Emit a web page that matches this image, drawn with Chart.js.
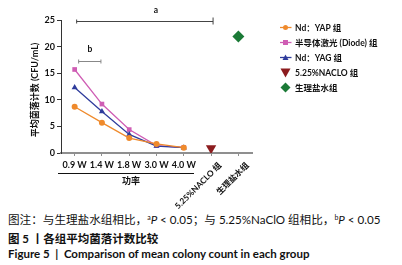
<!DOCTYPE html>
<html>
<head>
<meta charset="utf-8">
<script src="https://cdn.jsdelivr.net/npm/chart.js@4.4.1/dist/chart.umd.min.js"></script>
<style>
  html, body { margin: 0; padding: 0; background: #fff; }
  #wrap { position: relative; width: 402px; height: 265px; overflow: hidden; }
  #chart { position: absolute; left: 0; top: 0; }
  .cap { position: absolute; left: 8px; white-space: nowrap; color: #111; line-height: 1; font-family: Lato, "Noto Sans CJK SC", sans-serif; }
  #cap1 { top: 214px; font-size: 11.6px; }
  #cap2 { top: 233px; font-size: 11.5px; font-weight: bold; }
  #cap3 { top: 247.5px; font-size: 11.5px; font-weight: bold; }
  sup { font-size: 7px; vertical-align: 4px; }
</style>
</head>
<body>
<div id="wrap">
  <canvas id="chart" width="402" height="212"></canvas>
  <div class="cap" id="cap1">图注：与生理盐水组相比，<sup>a</sup><i>P</i> &lt; 0.05；与 5.25%NaClO 组相比，<sup>b</sup><i>P</i> &lt; 0.05</div>
  <div class="cap" id="cap2">图 5 丨各组平均菌落计数比较</div>
  <div class="cap" id="cap3">Figure 5 &nbsp;| &nbsp;Comparison of mean colony count in each group</div>
</div>
<script>
// categories & values
const CATEGORIES = ["0.9 W", "1.4 W", "1.8 W", "3.0 W", "4.0 W", "5.25%NACLO 组", "生理盐水组"];
const YAP_VALUES = [8.7, 5.7, 2.8, 1.7, 1.0, null, null];
const DIODE_VALUES = [15.7, 9.2, 4.4, 1.4, 1.05, null, null];
const YAG_VALUES = [12.3, 7.8, 3.5, 1.3, 1.0, null, null];
const NACLO_VALUES = [null, null, null, null, null, 0.9, null];
const SALINE_VALUES = [null, null, null, null, null, null, 21.9];
const Y_TICKS = [0, 5, 10, 15, 20, 25];

const FONT = 'Lato, "Noto Sans CJK SC", sans-serif';
const ORANGE = "#EF8A2C";
const PINK = "#CF5DB4";
const BLUE = "#2F3C9C";
const DARKRED = "#8C1C1E";
const GREEN = "#1B7A37";

const LEGEND = [
  { text: "Nd：YAP 组", color: ORANGE, style: "circle", r: 2.5, line: true },
  { text: "半导体激光 (Diode) 组", color: PINK, style: "rect", r: 2.5, line: true },
  { text: "Nd：YAG 组", color: BLUE, style: "triangle", r: 3, line: true },
  { text: "5.25%NACLO 组", color: DARKRED, style: "triDown", r: 5, line: false },
  { text: "生理盐水组", color: GREEN, style: "diamond", r: 5, line: false }
];

function marker(ctx, style, x, y, r, color) {
  ctx.save();
  ctx.fillStyle = color;
  ctx.beginPath();
  if (style === "circle") {
    ctx.arc(x, y, r, 0, Math.PI * 2);
  } else if (style === "rect") {
    ctx.rect(x - r, y - r, 2 * r, 2 * r);
  } else if (style === "triangle") {
    ctx.moveTo(x, y - r); ctx.lineTo(x + r, y + r * 0.8); ctx.lineTo(x - r, y + r * 0.8);
  } else if (style === "triDown") {
    ctx.moveTo(x - r, y - r * 0.8); ctx.lineTo(x + r, y - r * 0.8); ctx.lineTo(x, y + r);
  } else if (style === "diamond") {
    ctx.moveTo(x, y - r); ctx.lineTo(x + r, y); ctx.lineTo(x, y + r); ctx.lineTo(x - r, y);
  }
  ctx.closePath();
  ctx.fill();
  ctx.restore();
}

const extrasPlugin = {
  id: "extras",
  afterDraw(chart) {
    const ctx = chart.ctx;
    const xs = chart.scales.x;
    const ys = chart.scales.y;
    ctx.save();
    ctx.fillStyle = "#111";

    // x labels (last two rotated)
    ctx.textBaseline = "middle";
    CATEGORIES.forEach((c, i) => {
      const px = xs.getPixelForValue(i);
      if (i < 5) {
        ctx.font = "bold 9px " + FONT;
        ctx.textAlign = "center";
        ctx.fillText(c, px, 165);
      } else {
        ctx.save();
        ctx.font = "bold 8.3px " + FONT;
        ctx.translate(px + 9, 164);
        ctx.rotate(-Math.PI / 4);
        ctx.textAlign = "right";
        ctx.fillText(c, 0, 0);
        ctx.restore();
      }
    });

    // underline + 功率
    ctx.strokeStyle = "#111";
    ctx.lineWidth = 1;
    ctx.beginPath();
    ctx.moveTo(58, 173.5); ctx.lineTo(194, 173.5);
    ctx.stroke();
    ctx.font = "bold 9px " + FONT;
    ctx.textAlign = "center";
    ctx.fillText("功率", 131, 181);

    // y title
    ctx.save();
    ctx.translate(35, 90);
    ctx.rotate(-Math.PI / 2);
    ctx.font = "bold 9px " + FONT;
    ctx.fillText("平均菌落计数 (CFU/mL)", 0, 0);
    ctx.restore();

    // significance bracket a
    const ya = Math.round(ys.getPixelForValue(24.9)) + 0.5;
    const ax0 = xs.getPixelForValue(0) + 2;
    const ax1 = xs.getPixelForValue(5) + 2;
    ctx.strokeStyle = "#444";
    ctx.beginPath();
    ctx.moveTo(ax0, ya); ctx.lineTo(ax1, ya);
    ctx.moveTo(ax0, ya - 2); ctx.lineTo(ax0, ya + 2);
    ctx.moveTo(ax1, ya - 4); ctx.lineTo(ax1, ya + 3);
    ctx.stroke();
    ctx.font = "bold 8.5px " + FONT;
    ctx.fillText("a", 156, 10);

    // significance bracket b
    const yb = Math.round(ys.getPixelForValue(17.3)) + 0.5;
    const bx0 = xs.getPixelForValue(0) + 4;
    const bx1 = xs.getPixelForValue(1) - 1;
    ctx.strokeStyle = "#888";
    ctx.beginPath();
    ctx.moveTo(bx0, yb); ctx.lineTo(bx1, yb);
    ctx.moveTo(bx0, yb - 2); ctx.lineTo(bx0, yb + 2);
    ctx.moveTo(bx1, yb - 2); ctx.lineTo(bx1, yb + 2);
    ctx.stroke();
    ctx.fillText("b", 90, 49);

    // legend
    ctx.font = "bold 8.5px " + FONT;
    ctx.textAlign = "left";
    LEGEND.forEach((item, i) => {
      const ly = 27.5 + i * 15;
      if (item.line) {
        ctx.strokeStyle = item.color;
        ctx.lineWidth = 1.3;
        ctx.beginPath();
        ctx.moveTo(280, ly); ctx.lineTo(291.5, ly);
        ctx.stroke();
      }
      marker(ctx, item.style, 285.5, ly, item.r, item.color);
      ctx.fillStyle = "#111";
      ctx.fillText(item.text, 295, ly + 0.5);
    });
    ctx.restore();
  }
};

function lineSet(label, data, color, style, radius, order) {
  return {
    label, data, order,
    borderColor: color, backgroundColor: color,
    pointBackgroundColor: color, pointBorderColor: color,
    pointStyle: style, pointRadius: radius, pointBorderWidth: 0,
    borderWidth: 1.3, tension: 0, spanGaps: false
  };
}

new Chart(document.getElementById("chart"), {
  type: "line",
  data: {
    labels: CATEGORIES,
    datasets: [
      lineSet("Nd：YAP 组", YAP_VALUES, ORANGE, "circle", 3, 1),
      lineSet("Nd：YAG 组", YAG_VALUES, BLUE, "triangle", 3.5, 2),
      lineSet("半导体激光 (Diode) 组", DIODE_VALUES, PINK, "rect", 3.3, 3),
      Object.assign(lineSet("5.25%NACLO 组", NACLO_VALUES, DARKRED, "triangle", 6, 4), { pointRotation: 180, showLine: false }),
      Object.assign(lineSet("生理盐水组", SALINE_VALUES, GREEN, "rectRot", 6, 5), { showLine: false })
    ]
  },
  options: {
    responsive: false,
    animation: false,
    layout: { padding: { top: 20, right: 150, bottom: 0, left: 0 } },
    plugins: { legend: { display: false }, tooltip: { enabled: false } },
    scales: {
      x: {
        offset: true,
        afterFit: s => { s.height = 59; },
        border: { color: "#8f8f8f", width: 2 },
        grid: { display: true, offset: false, drawOnChartArea: false, drawTicks: true, tickLength: 3, color: "#8f8f8f", lineWidth: 1 },
        ticks: { display: true, callback: () => "" }
      },
      y: {
        min: 0, max: 25,
        afterFit: s => { s.width = 61; },
        afterBuildTicks: s => { s.ticks = Y_TICKS.map(v => ({ value: v })); },
        border: { color: "#333", width: 1 },
        grid: { display: true, drawOnChartArea: false, drawTicks: true, tickLength: 4, color: "#333" },
        ticks: { font: { family: FONT, size: 9, weight: "bold" }, color: "#111", padding: 2 }
      }
    }
  },
  plugins: [extrasPlugin]
});
</script>
</body>
</html>
